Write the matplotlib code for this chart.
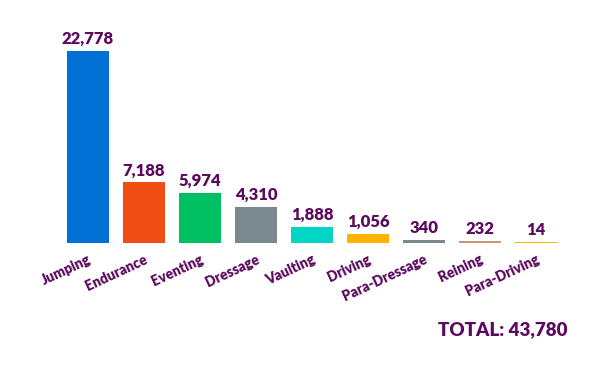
import matplotlib.pyplot as plt

categories = ["Jumping", "Endurance", "Eventing", "Dressage", "Vaulting",
              "Driving", "Para-Dressage", "Reining", "Para-Driving"]
values = [22778, 7188, 5974, 4310, 1888, 1056, 340, 232, 14]
colors = ["#0070d4", "#f04d14", "#00c064", "#7b888d", "#00d5c6",
          "#ffb300", "#7b888d", "#c9957b", "#ffb300"]
total = 43780

txt = "#5c0a5e"
plt.rcParams['font.family'] = ['Lato', 'DejaVu Sans']

fig = plt.figure(figsize=(6, 3.65), dpi=100)
ax = fig.add_axes([0, 0, 1, 1])
ax.set_xlim(-1.571, 9.143)
ax.set_ylim(-14472, 28826)
ax.axis('off')

x = range(len(categories))
# tiny bars still visible as thin strips
shown = [max(v, 150) for v in values]
ax.bar(x, shown, width=0.75, color=colors, edgecolor='none')

for i, v in enumerate(values):
    ax.annotate(f"{v:,}", (i, shown[i]), xytext=(0, 3), textcoords='offset points',
                ha='center', va='bottom', fontsize=12, fontweight='heavy', color=txt)
    ax.annotate(categories[i], (i, 0), xytext=(3, -14), textcoords='offset points',
                ha='right', va='baseline', rotation=25, rotation_mode='anchor',
                fontsize=10, fontweight='heavy', color=txt)

fig.text(568 / 600, 1 - 330 / 365, f"TOTAL: {total:,}", ha='right', va='center',
         fontsize=13.5, fontweight='heavy', color=txt)

fig.savefig("out.png", dpi=100)
